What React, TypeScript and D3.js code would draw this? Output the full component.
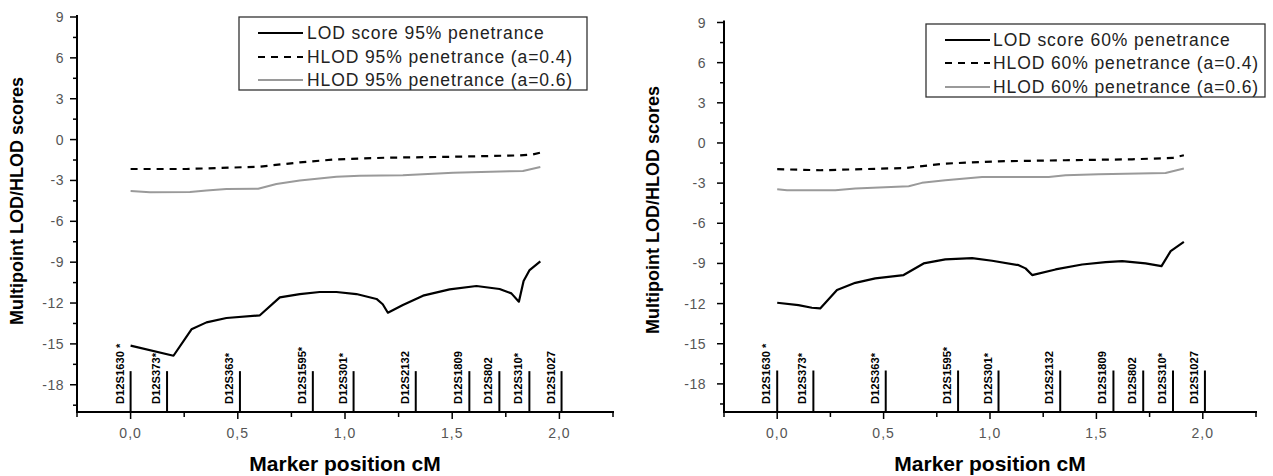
import React from "react";
import * as d3 from "d3";

// ---------- data ----------
const markerNames = ["D12S1630 *", "D12S373*", "D12S363*", "D12S1595*", "D12S301*", "D12S2132", "D12S1809", "D12S802", "D12S310*", "D12S1027"];
const markerPos = [0, 0.17, 0.51, 0.85, 1.04, 1.33, 1.58, 1.72, 1.86, 2.01];
const markerTop = -17;

const yMajorTicks = [9, 6, 3, 0, -3, -6, -9, -12, -15, -18];
const yMinorTicks = [7.5, 4.5, 1.5, -1.5, -4.5, -7.5, -10.5, -13.5, -16.5, -19.5];
const xMajorTicks = [0, 0.5, 1.0, 1.5, 2.0];
const xMinorTicks = [-0.25, 0.25, 0.75, 1.25, 1.75, 2.25];

// Left panel: 95% penetrance
const lod95X = [0, 0.2, 0.284, 0.354, 0.447, 0.603, 0.696, 0.789, 0.882, 0.96, 1.053, 1.147, 1.176, 1.2, 1.27, 1.364, 1.488, 1.613, 1.721, 1.776, 1.811, 1.833, 1.861, 1.911];
const lod95Y = [-15.13, -15.87, -13.93, -13.42, -13.1, -12.9, -11.58, -11.34, -11.19, -11.19, -11.34, -11.7, -12.09, -12.71, -12.15, -11.46, -11.0, -10.75, -10.97, -11.29, -11.9, -10.38, -9.58, -8.94];
const hlod95aX = [0, 0.261, 0.603, 0.789, 0.96, 1.193, 1.504, 1.814, 1.876, 1.911];
const hlod95aY = [-2.16, -2.16, -1.99, -1.67, -1.45, -1.33, -1.26, -1.16, -1.09, -0.96];
const hlod95bX = [0, 0.09, 0.277, 0.354, 0.447, 0.595, 0.68, 0.789, 0.96, 1.069, 1.27, 1.504, 1.768, 1.83, 1.911];
const hlod95bY = [-3.78, -3.87, -3.85, -3.73, -3.63, -3.61, -3.26, -3.0, -2.72, -2.65, -2.62, -2.43, -2.33, -2.31, -2.01];

// Right panel: 60% penetrance
const lod60X = [0, 0.1, 0.163, 0.202, 0.281, 0.367, 0.461, 0.594, 0.688, 0.79, 0.916, 1.01, 1.135, 1.167, 1.198, 1.308, 1.433, 1.543, 1.621, 1.731, 1.806, 1.849, 1.911];
const lod60Y = [-11.94, -12.11, -12.31, -12.36, -10.99, -10.45, -10.12, -9.87, -9.0, -8.7, -8.6, -8.8, -9.13, -9.37, -9.87, -9.45, -9.08, -8.9, -8.83, -9.0, -9.2, -8.08, -7.39];
const hlod60aX = [0, 0.202, 0.602, 0.79, 1.04, 1.355, 1.668, 1.857, 1.911];
const hlod60aY = [-1.96, -2.04, -1.87, -1.54, -1.37, -1.29, -1.22, -1.12, -0.92];
const hlod60bX = [0, 0.046, 0.273, 0.367, 0.618, 0.68, 0.79, 0.963, 1.276, 1.355, 1.511, 1.825, 1.911];
const hlod60bY = [-3.46, -3.53, -3.53, -3.41, -3.23, -2.98, -2.78, -2.54, -2.54, -2.41, -2.34, -2.24, -1.91];

const legend95 = ["LOD score 95% penetrance", "HLOD 95% penetrance (a=0.4)", "HLOD 95% penetrance (a=0.6)"];
const legend60 = ["LOD score 60% penetrance", "HLOD 60% penetrance (a=0.4)", "HLOD 60% penetrance (a=0.6)"];

const yLabel = "Multipoint LOD/HLOD scores";
const xLabel = "Marker position cM";

// ---------- styles ----------
const GRAY = "#9a9a9a";
const DASH = "7,6";
const FONT = "Arial, 'Liberation Sans', sans-serif";
const seriesStyles = [
  { stroke: "#000", dash: undefined, width: 2.2 },
  { stroke: "#000", dash: DASH, width: 2.2 },
  { stroke: GRAY, dash: undefined, width: 2 },
];

type PanelCfg = {
  x0: number; x1: number; yTop: number; yBot: number; yDomLo: number;
  series: [number[], number[]][];
  legend: string[];
  legBox: { x: number; y: number; w: number; h: number; s0: number; s1: number; tx: number; rows: number[] };
  tickLabelGap: number;
  yLab: { x: number; y: number };
};

const panels: PanelCfg[] = [
  {
    x0: 77, x1: 613, yTop: 17, yBot: 412, yDomLo: -20,
    series: [[lod95X, lod95Y], [hlod95aX, hlod95aY], [hlod95bX, hlod95bY]],
    legend: legend95,
    legBox: { x: 239, y: 17, w: 348, h: 73, s0: 258, s1: 303, tx: 307, rows: [33, 57, 80] },
    tickLabelGap: 13,
    yLab: { x: 23, y: 201 },
  },
  {
    x0: 724, x1: 1256, yTop: 22.5, yBot: 412, yDomLo: -20.1,
    series: [[lod60X, lod60Y], [hlod60aX, hlod60aY], [hlod60bX, hlod60bY]],
    legend: legend60,
    legBox: { x: 926, y: 24, w: 339, h: 73, s0: 945, s1: 990, tx: 993, rows: [40, 63, 87] },
    tickLabelGap: 18,
    yLab: { x: 659, y: 210 },
  },
];

const fmtX = (v: number) => d3.format(".1f")(v).replace(".", ",");

function Panel({ cfg }: { cfg: PanelCfg }) {
  const x = d3.scaleLinear().domain([-0.25, 2.25]).range([cfg.x0, cfg.x1]);
  const y = d3.scaleLinear().domain([cfg.yDomLo, 9]).range([cfg.yBot, cfg.yTop]);
  const line = d3.line<[number, number]>().x((d) => x(d[0])).y((d) => y(d[1]));
  const b = cfg.legBox;
  return (
    <g>
      {/* series */}
      {cfg.series.map(([xs, ys], i) => (
        <path
          key={i}
          d={line(xs.map((v, j) => [v, ys[j]] as [number, number])) || ""}
          fill="none"
          stroke={seriesStyles[i].stroke}
          strokeWidth={seriesStyles[i].width}
          strokeDasharray={seriesStyles[i].dash}
          strokeLinejoin="round"
        />
      ))}
      {/* markers */}
      {markerPos.map((m, i) => (
        <g key={i}>
          <line x1={x(m)} x2={x(m)} y1={y(cfg.yDomLo)} y2={y(markerTop)} stroke="#000" strokeWidth={2} />
          <text
            transform={`translate(${x(m) - 7},${cfg.yBot - 8}) rotate(-90)`}
            fontFamily={FONT}
            fontWeight="bold"
            fontSize={11.2}
            fill="#000"
          >
            {markerNames[i]}
          </text>
        </g>
      ))}
      {/* y axis */}
      <line x1={cfg.x0} x2={cfg.x0} y1={cfg.yTop - 2} y2={cfg.yBot + 1} stroke="#000" strokeWidth={2} />
      {yMajorTicks.map((t) => (
        <g key={"ym" + t}>
          <line x1={cfg.x0 - 7} x2={cfg.x0} y1={y(t)} y2={y(t)} stroke="#000" strokeWidth={1.5} />
          <text x={cfg.x0 - cfg.tickLabelGap} y={y(t)} dy="0.36em" textAnchor="end" fontFamily={FONT} fontSize={14} fill="#555" letterSpacing={0.5}>
            {t}
          </text>
        </g>
      ))}
      {yMinorTicks.map((t) => (
        <line key={"yn" + t} x1={cfg.x0 - 4} x2={cfg.x0} y1={y(t)} y2={y(t)} stroke="#000" strokeWidth={1.5} />
      ))}
      {/* x axis */}
      <line x1={cfg.x0 - 1} x2={cfg.x1 + 1} y1={cfg.yBot} y2={cfg.yBot} stroke="#000" strokeWidth={2} />
      {xMajorTicks.map((t) => (
        <g key={"xm" + t}>
          <line x1={x(t)} x2={x(t)} y1={cfg.yBot} y2={cfg.yBot + 7} stroke="#000" strokeWidth={1.5} />
          <text x={x(t)} y={438} textAnchor="middle" fontFamily={FONT} fontSize={14} fill="#555" letterSpacing={1}>
            {fmtX(t)}
          </text>
        </g>
      ))}
      {xMinorTicks.map((t) => (
        <line key={"xn" + t} x1={x(t)} x2={x(t)} y1={cfg.yBot} y2={cfg.yBot + 5} stroke="#000" strokeWidth={1.5} />
      ))}
      {/* axis titles */}
      <text x={(cfg.x0 + cfg.x1) / 2} y={471} textAnchor="middle" fontFamily={FONT} fontWeight="bold" fontSize={21} fill="#000">
        {xLabel}
      </text>
      <text transform={`translate(${cfg.yLab.x},${cfg.yLab.y}) rotate(-90)`} textAnchor="middle" fontFamily={FONT} fontWeight="bold" fontSize={18} fill="#000">
        {yLabel}
      </text>
      {/* legend */}
      <rect x={b.x} y={b.y} width={b.w} height={b.h} fill="#fff" stroke="#333" strokeWidth={1.3} />
      {cfg.legend.map((lab, i) => (
        <g key={"lg" + i}>
          <line x1={b.s0} x2={b.s1} y1={b.rows[i]} y2={b.rows[i]} stroke={seriesStyles[i].stroke} strokeWidth={seriesStyles[i].width} strokeDasharray={seriesStyles[i].dash} />
          <text x={b.tx} y={b.rows[i]} dy="0.36em" fontFamily={FONT} fontSize={17.5} fill="#222" letterSpacing={0.9}>
            {lab}
          </text>
        </g>
      ))}
    </g>
  );
}

export default function App() {
  return (
    <div style={{ position: "absolute", left: 0, top: 0 }}>
      <svg width={1273} height={476} style={{ display: "block", background: "#fff" }}>
        {panels.map((p, i) => (
          <Panel key={i} cfg={p} />
        ))}
      </svg>
    </div>
  );
}
